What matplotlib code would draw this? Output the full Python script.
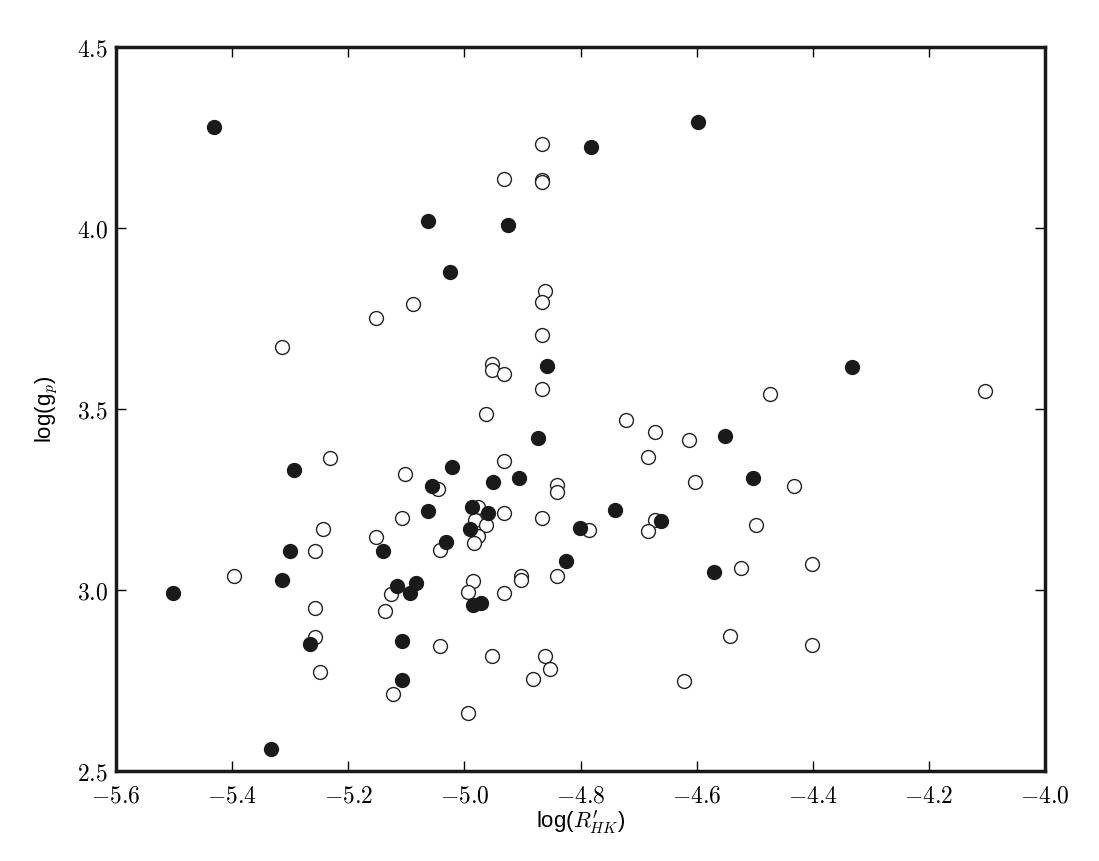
import matplotlib
matplotlib.use('Agg')
import matplotlib.pyplot as plt
from matplotlib.ticker import FuncFormatter, MultipleLocator

# filled points (log R'HK, log g_p)
filled_x = [-5.431, -4.597, -4.782, -5.062, -4.925, -5.025, -4.857, -4.333, -4.874, -4.551,
            -5.294, -5.021, -4.951, -4.906, -4.503, -5.056, -4.987, -4.960, -5.062, -4.740,
            -4.991, -4.801, -4.662, -5.031, -5.140, -5.300, -4.825, -4.570, -5.314, -5.084,
            -5.116, -5.094, -5.502, -4.986, -4.971, -5.266, -5.107, -5.107, -5.333]
filled_y = [4.280, 4.294, 4.225, 4.020, 4.009, 3.880, 3.620, 3.616, 3.420, 3.425,
            3.332, 3.341, 3.298, 3.310, 3.309, 3.287, 3.230, 3.212, 3.220, 3.221,
            3.169, 3.172, 3.191, 3.133, 3.109, 3.108, 3.081, 3.051, 3.027, 3.021,
            3.011, 2.992, 2.992, 2.959, 2.964, 2.851, 2.859, 2.751, 2.562]

# open points
open_x = [-4.866, -4.932, -4.866, -4.866, -4.861, -4.866, -5.089, -5.152, -4.866, -5.314,
          -4.952, -4.952, -4.932, -4.866, -4.962, -4.473, -4.103, -4.722, -4.672, -4.614,
          -4.683, -5.232, -4.932, -5.102, -4.603, -4.840, -4.840, -4.432, -5.045, -4.976,
          -4.982, -4.962, -4.932, -5.107, -4.867, -4.672, -4.497, -5.244, -4.786, -4.683,
          -5.152, -4.976, -4.983, -5.042, -5.257, -4.402, -4.523, -5.396, -4.902, -4.902,
          -4.840, -4.986, -5.126, -4.993, -4.932, -5.257, -5.137, -5.257, -4.543, -5.042,
          -4.402, -4.952, -4.862, -4.852, -5.249, -4.882, -4.622, -5.123, -4.994]
open_y = [4.234, 4.137, 4.133, 4.128, 3.828, 3.797, 3.791, 3.753, 3.705, 3.673,
          3.624, 3.609, 3.597, 3.557, 3.486, 3.541, 3.551, 3.471, 3.438, 3.416,
          3.369, 3.366, 3.358, 3.320, 3.300, 3.291, 3.272, 3.287, 3.279, 3.230,
          3.194, 3.180, 3.214, 3.198, 3.199, 3.193, 3.181, 3.168, 3.167, 3.163,
          3.148, 3.150, 3.130, 3.111, 3.109, 3.072, 3.062, 3.038, 3.040, 3.028,
          3.040, 3.024, 2.990, 2.996, 2.991, 2.951, 2.941, 2.871, 2.872, 2.845,
          2.847, 2.817, 2.819, 2.781, 2.774, 2.755, 2.750, 2.712, 2.659]

plt.rcParams['mathtext.fontset'] = 'cm'

fig = plt.figure(figsize=(10.99, 8.61), dpi=100)
ax = fig.add_axes([0.1056, 0.1045, 0.8453, 0.8405])

ax.plot(open_x, open_y, 'o', ms=10, mfc='white', mec='#222222', mew=1.0, linestyle='none')
ax.plot(filled_x, filled_y, 'o', ms=10, mfc='#1a1a1a', mec='#1a1a1a', mew=1.0, linestyle='none')

ax.set_xlim(-5.6, -4.0)
ax.set_ylim(2.5, 4.5)
ax.xaxis.set_major_locator(MultipleLocator(0.2))
ax.yaxis.set_major_locator(MultipleLocator(0.5))
ax.xaxis.set_major_formatter(FuncFormatter(lambda v, p: r'$%.1f$' % v))
ax.yaxis.set_major_formatter(FuncFormatter(lambda v, p: r'$%.1f$' % v))

ax.tick_params(direction='in', length=7, width=1, top=True, right=True, labelsize=17)
ax.tick_params(axis='x', pad=9)
ax.tick_params(axis='y', pad=6)
for s in ax.spines.values():
    s.set_linewidth(2.5)
    s.set_color('#1a1a1a')

ax.set_xlabel(r"log($R^{\prime}_{HK}$)", fontsize=16, family='Liberation Sans', labelpad=1)
ax.set_ylabel(r"log(g$_p$)", fontsize=16, family='Liberation Sans', labelpad=12)

fig.savefig('out.png', dpi=100)
